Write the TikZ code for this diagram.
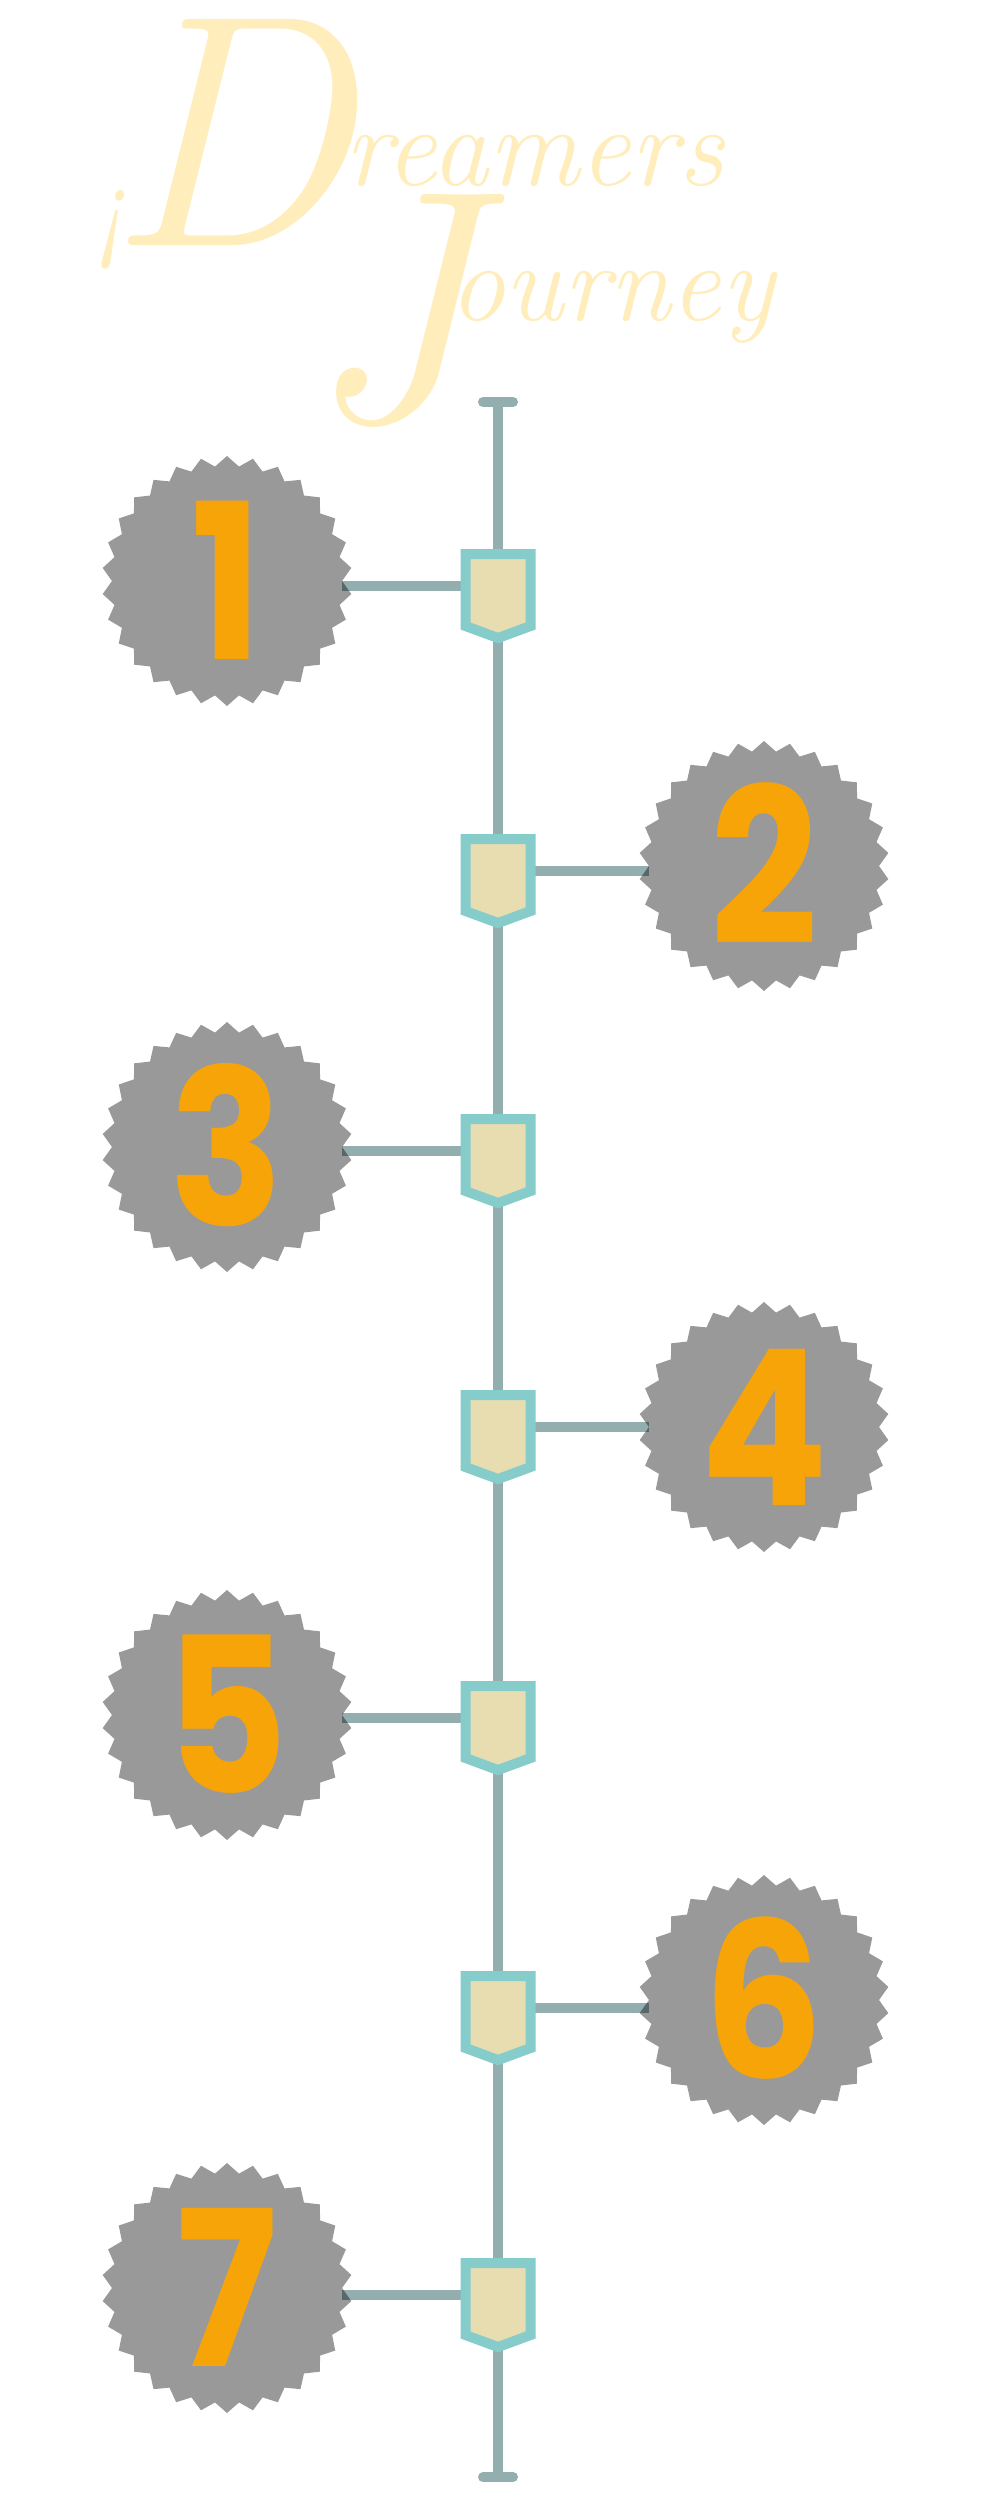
\documentclass[tikz,border=0pt]{standalone}
\usepackage{fontspec}
\usepackage{graphicx}
\usetikzlibrary{shapes.geometric}
\newfontfamily\numfont{Poppins}
\definecolor{linec}{HTML}{93AEAE}
\definecolor{markb}{HTML}{86CCCA}
\definecolor{markf}{HTML}{E8DDB1}
\definecolor{badgec}{HTML}{999999}
\definecolor{numc}{HTML}{F7A409}
\definecolor{titlec}{HTML}{FFEDBB}
\newcommand{\dig}[1]{\scalebox{0.87}[1]{#1}}
\begin{document}
\begin{tikzpicture}[x=1pt,y=-1pt,
  vline/.style={draw=linec, line width=10pt},
  conn/.style={draw=linec, line width=10pt, blend mode=multiply},
  badge/.style={star, star points=30, star point ratio=1.087, minimum size=250pt,
    inner sep=0pt, outer sep=0pt, fill=badgec, text=numc,
    text height=157pt, text depth=0pt,
    font=\numfont\bfseries\fontsize{217}{217}\selectfont},
  pentstyle/.style={draw=markb, fill=markf, line width=10pt, line join=miter},
  titletext/.style={text=titlec, inner sep=0pt, anchor=base west,
    font=\itshape\fontsize{100}{100}\selectfont},
  pics/pentmark/.style={code={
    \path[pentstyle] (-32.5,-32) -- (32.5,-32) -- (32.5,40) -- (0,52) -- (-32.5,40) -- cycle;}}
]
\useasboundingbox (0,0) rectangle (1000,2500);
\fill[white] (0,0) rectangle (1000,2500);

% title
\node[titletext] (t1) at (96,245)
  {\scalebox{0.9}[1.1]{¡}\kern-17pt\scalebox{3.31}{D}\kern-6pt\raisebox{60pt}{\resizebox{379pt}{!}{reamers}}};
\node[titletext] (t2) at (303,420)
  {\scalebox{3.31}{J}\kern-24pt\raisebox{100pt}{\resizebox{325pt}{!}{ourney}}};

% timeline
\coordinate (top) at (498,402);
\coordinate (bot) at (498,2477);
\draw[vline] (top) -- (bot);
\draw[vline, line cap=round] ([xshift=-15pt]top) -- ([xshift=15pt]top);
\draw[vline, line cap=round] ([xshift=-15pt]bot) -- ([xshift=15pt]bot);

% marker points on the line
\coordinate (m1) at (498,586);
\coordinate (m2) at (498,871);
\coordinate (m3) at (498,1151);
\coordinate (m4) at (498,1427);
\coordinate (m5) at (498,1718);
\coordinate (m6) at (498,2008);
\coordinate (m7) at (498,2295);

% badges
\node[badge] (b1) at (227,581) {\dig{1}};
\node[badge] (b2) at (764,866) {\dig{2}};
\node[badge] (b3) at (227,1147) {\dig{3}};
\node[badge] (b4) at (764,1427) {\dig{4}};
\node[badge] (b5) at (227,1715) {\dig{5}};
\node[badge] (b6) at (764,2000) {\dig{6}};
\node[badge] (b7) at (227,2288) {\dig{7}};

% connectors
\draw[conn] (b1.east |- m1) -- (m1);
\draw[conn] (m2) -- (b2.west |- m2);
\draw[conn] (b3.east |- m3) -- (m3);
\draw[conn] (m4) -- (b4.west |- m4);
\draw[conn] (b5.east |- m5) -- (m5);
\draw[conn] (m6) -- (b6.west |- m6);
\draw[conn] (b7.east |- m7) -- (m7);

% markers
\foreach \i in {1,...,7} { \pic (p\i) at (m\i) {pentmark}; }
\end{tikzpicture}
\end{document}
